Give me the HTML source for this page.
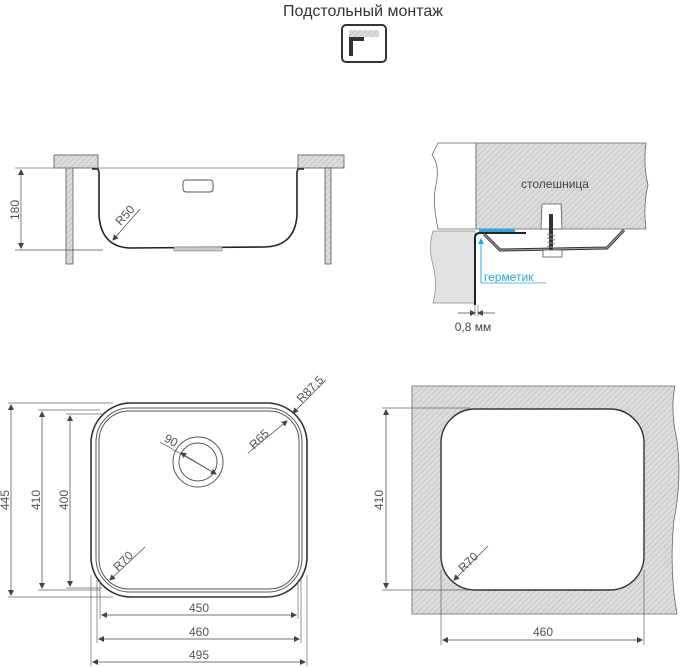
<!DOCTYPE html>
<html><head><meta charset="utf-8"><style>
html,body{margin:0;padding:0;background:#fff;width:683px;height:667px;overflow:hidden}
text{font-family:"Liberation Sans","DejaVu Sans",sans-serif;fill:#555}
</style></head><body>
<svg width="683" height="667" viewBox="0 0 683 667" xmlns="http://www.w3.org/2000/svg">
<defs>
<pattern id="h" width="4" height="4" patternUnits="userSpaceOnUse" patternTransform="rotate(45)">
<rect width="4" height="4" fill="#dcdcdc"/><line x1="0" y1="0" x2="0" y2="4" stroke="#b4b4b4" stroke-width="1"/>
</pattern>
<marker id="a" markerWidth="6" markerHeight="6" refX="5" refY="3" orient="auto-start-reverse" markerUnits="userSpaceOnUse"><path d="M0,0 L6,3 L0,6z" fill="#444"/></marker>
<marker id="b" markerWidth="6" markerHeight="6" refX="5" refY="3" orient="auto" markerUnits="userSpaceOnUse"><path d="M0,0 L6,3 L0,6z" fill="#29a8e0"/></marker>
</defs>

<!-- title -->
<text x="363" y="16" font-size="16" text-anchor="middle" style="fill:#333">Подстольный монтаж</text>
<rect x="342" y="25" width="44" height="37" rx="4" fill="#fff" stroke="#333" stroke-width="2"/>
<rect x="349" y="30" width="30" height="7" fill="url(#h)"/>
<path d="M349,37 H364 V41 H353 V56 H349Z" fill="#333"/>

<!-- side view -->
<g stroke="#555" stroke-width="0.8" fill="url(#h)">
<rect x="54" y="155" width="44" height="13"/>
<rect x="298" y="155" width="46" height="13"/>
<rect x="66" y="168" width="7" height="96"/>
<rect x="325" y="168" width="6" height="96"/>
</g>
<line x1="15" y1="168" x2="298" y2="168" stroke="#777" stroke-width="0.7"/>
<path d="M92,169 H98 L99,172 V215 Q101,247 130,248 L265,247 Q295,246 297,215 V172 L298,169 H304" fill="none" stroke="#222" stroke-width="1.6"/>
<rect x="183" y="180" width="30" height="12" rx="3" fill="none" stroke="#555" stroke-width="1"/>
<rect x="174" y="247" width="48" height="4" fill="#ccc" stroke="#777" stroke-width="0.6"/>
<line x1="15" y1="250" x2="103" y2="250" stroke="#555" stroke-width="0.7"/>
<line x1="21" y1="170" x2="21" y2="248" stroke="#444" stroke-width="0.7" marker-start="url(#a)" marker-end="url(#a)"/>
<text transform="translate(19,210) rotate(-90)" font-size="12" text-anchor="middle">180</text>
<line x1="113" y1="240" x2="140" y2="209" stroke="#444" stroke-width="0.7" marker-start="url(#a)"/>
<text transform="translate(128,218) rotate(-48)" font-size="12" text-anchor="middle">R50</text>

<!-- section detail -->
<path d="M438,143 H476 V229 H438 Q432,200 436,185 Q440,165 432,155 Z" fill="#fff" stroke="#666" stroke-width="0.8"/>
<path d="M476,143 H646 Q643,165 648,185 Q643,205 646,229 H476Z" fill="url(#h)" stroke="#666" stroke-width="0.8"/>
<path d="M433,231 H475 V303 H433 Q438,285 433,265 Q428,248 433,231Z" fill="#e2e2e2" stroke="#888" stroke-width="0.7"/>
<rect x="479" y="229" width="36" height="3" fill="#29a8e0"/>
<path d="M475,305 V238 Q475,233 480,233 H526" fill="none" stroke="#222" stroke-width="2"/>
<path d="M484,234 L500,250 L607,248 L624,230" fill="none" stroke="#333" stroke-width="3"/>
<path d="M484,234 L500,250 L607,248 L624,230" fill="none" stroke="#aaa" stroke-width="1"/>
<path d="M542,204 H561 L562,229 H541Z" fill="#fff" stroke="#555" stroke-width="0.8"/>
<path d="M551,214 V250" stroke="#333" stroke-width="4"/>
<path d="M547,234 L555,236 M547,238 L555,240 M547,242 L555,244 M547,246 L555,248" stroke="#888" stroke-width="1"/>
<rect x="543" y="250" width="19" height="7" fill="#fff" stroke="#555" stroke-width="0.8"/>
<text x="555" y="188" font-size="12" text-anchor="middle" style="fill:#444">столешница</text>
<line x1="481" y1="283" x2="481" y2="239" stroke="#29a8e0" stroke-width="1" marker-end="url(#b)"/>
<line x1="481" y1="283" x2="546" y2="283" stroke="#29a8e0" stroke-width="0.8"/>
<text x="484" y="281" font-size="12" style="fill:#29a8e0">герметик</text>
<line x1="475" y1="305" x2="475" y2="316" stroke="#555" stroke-width="0.6"/>
<line x1="478" y1="305" x2="478" y2="316" stroke="#555" stroke-width="0.6"/>
<line x1="458" y1="313" x2="475" y2="313" stroke="#444" stroke-width="0.7" marker-end="url(#a)"/>
<line x1="495" y1="313" x2="478" y2="313" stroke="#444" stroke-width="0.7" marker-end="url(#a)"/>
<text x="473" y="331" font-size="12" text-anchor="middle" style="fill:#444">0,8 мм</text>

<!-- plan view sink -->
<rect x="91" y="403" width="216" height="194" rx="40" fill="none" stroke="#333" stroke-width="1.6"/>
<rect x="96" y="408" width="206" height="184" rx="34" fill="none" stroke="#555" stroke-width="1"/>
<rect x="99" y="411" width="200" height="178" rx="30" fill="none" stroke="#555" stroke-width="1"/>
<circle cx="198" cy="462" r="25" fill="none" stroke="#555" stroke-width="1"/>
<circle cx="198" cy="462" r="19" fill="none" stroke="#555" stroke-width="1"/>
<line x1="160" y1="442" x2="216" y2="474" stroke="#444" stroke-width="0.7" marker-end="url(#a)"/>
<line x1="181" y1="453" x2="216" y2="474" stroke="#444" stroke-width="0.7" marker-start="url(#a)"/>
<text transform="translate(169,444) rotate(30)" font-size="12" text-anchor="middle">90</text>
<line x1="293" y1="413" x2="326" y2="380" stroke="#444" stroke-width="0.7" marker-start="url(#a)"/>
<text transform="translate(313,392) rotate(-45)" font-size="12" text-anchor="middle">R87,5</text>
<line x1="287" y1="421" x2="248" y2="453" stroke="#444" stroke-width="0.7" marker-start="url(#a)"/>
<text transform="translate(262,442) rotate(-45)" font-size="12" text-anchor="middle">R65</text>
<line x1="110" y1="580" x2="145" y2="547" stroke="#444" stroke-width="0.7" marker-start="url(#a)"/>
<text transform="translate(126,564) rotate(-45)" font-size="12" text-anchor="middle">R70</text>
<g stroke="#666" stroke-width="0.7">
<line x1="8" y1="403" x2="113" y2="403"/><line x1="8" y1="597" x2="113" y2="597"/>
<line x1="38" y1="410" x2="100" y2="410"/><line x1="38" y1="590" x2="100" y2="590"/>
<line x1="66" y1="414" x2="102" y2="414"/><line x1="66" y1="588" x2="102" y2="588"/>
<line x1="91" y1="575" x2="91" y2="666"/><line x1="307" y1="575" x2="307" y2="666"/>
<line x1="97" y1="580" x2="97" y2="643"/><line x1="301" y1="580" x2="301" y2="643"/>
<line x1="100" y1="580" x2="100" y2="619"/><line x1="298" y1="580" x2="298" y2="619"/>
</g>
<g stroke="#444" stroke-width="0.7">
<line x1="11" y1="405" x2="11" y2="595" marker-start="url(#a)" marker-end="url(#a)"/>
<line x1="42" y1="412" x2="42" y2="588" marker-start="url(#a)" marker-end="url(#a)"/>
<line x1="70" y1="416" x2="70" y2="586" marker-start="url(#a)" marker-end="url(#a)"/>
<line x1="102" y1="615" x2="296" y2="615" marker-start="url(#a)" marker-end="url(#a)"/>
<line x1="99" y1="639" x2="299" y2="639" marker-start="url(#a)" marker-end="url(#a)"/>
<line x1="93" y1="662" x2="305" y2="662" marker-start="url(#a)" marker-end="url(#a)"/>
</g>
<text transform="translate(9,500) rotate(-90)" font-size="12" text-anchor="middle">445</text>
<text transform="translate(40,500) rotate(-90)" font-size="12" text-anchor="middle">410</text>
<text transform="translate(68,500) rotate(-90)" font-size="12" text-anchor="middle">400</text>
<text x="199" y="612" font-size="12" text-anchor="middle">450</text>
<text x="199" y="636" font-size="12" text-anchor="middle">460</text>
<text x="199" y="659" font-size="12" text-anchor="middle">495</text>

<!-- cutout -->
<path d="M412,386 H675 Q670,410 677,440 Q682,480 674,520 Q669,570 677,614 H412Z" fill="url(#h)" stroke="#666" stroke-width="0.8"/>
<rect x="441" y="409" width="203" height="181" rx="34" fill="#fff" stroke="#333" stroke-width="1.4"/>
<g stroke="#666" stroke-width="0.7">
<line x1="382" y1="408" x2="470" y2="408"/><line x1="382" y1="590" x2="470" y2="590"/>
<line x1="441" y1="570" x2="441" y2="645"/><line x1="644" y1="570" x2="644" y2="645"/>
</g>
<g stroke="#444" stroke-width="0.7">
<line x1="386" y1="410" x2="386" y2="588" marker-start="url(#a)" marker-end="url(#a)"/>
<line x1="443" y1="640" x2="642" y2="640" marker-start="url(#a)" marker-end="url(#a)"/>
<line x1="454" y1="580" x2="488" y2="546" marker-start="url(#a)"/>
</g>
<text transform="translate(383,500) rotate(-90)" font-size="12" text-anchor="middle">410</text>
<text x="543" y="636" font-size="12" text-anchor="middle">460</text>
<text transform="translate(471,565) rotate(-45)" font-size="12" text-anchor="middle">R70</text>
</svg>
</body></html>
